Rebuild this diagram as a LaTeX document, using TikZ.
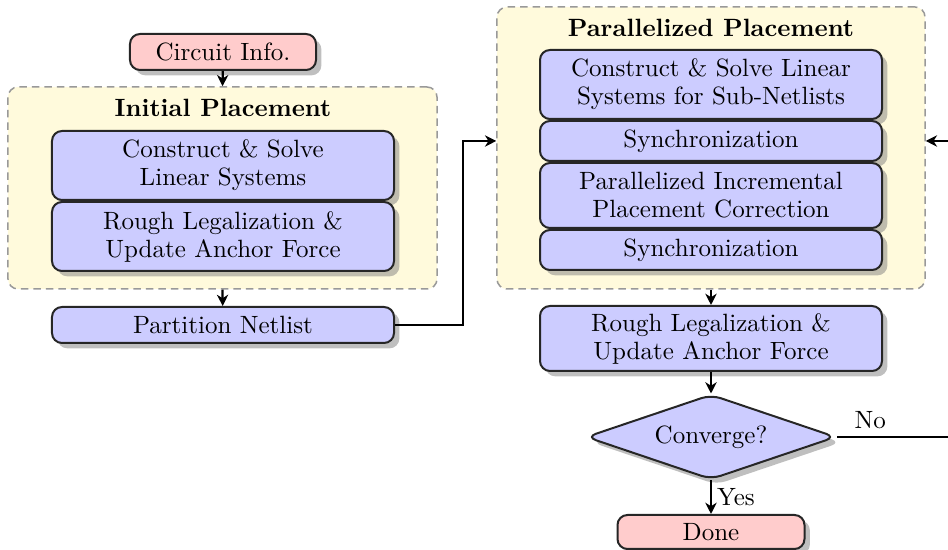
\documentclass[tikz,border=0pt]{standalone}
\usetikzlibrary{shapes.geometric,shadows,calc,arrows.meta}
\definecolor{boxblue}{RGB}{204,204,255}
\definecolor{boxpink}{RGB}{255,204,204}
\definecolor{grpfill}{RGB}{255,250,220}
\begin{document}
\begin{tikzpicture}[x=0.4pt,y=-0.4pt,
  font=\fontsize{10}{11.2}\selectfont,
  procbox/.style={draw=black!85, thick, fill=boxblue, rounded corners=4pt, drop shadow,
    minimum width=136.8pt, align=center, inner sep=0pt},
  termbox/.style={draw=black!85, thick, fill=boxpink, rounded corners=4pt, drop shadow,
    align=center, inner sep=0pt},
  grpbox/.style={draw=gray!80, semithick, dash pattern=on 3pt off 2pt, fill=grpfill,
    rounded corners=4pt, inner sep=0pt},
  decbox/.style={diamond, aspect=2.96, draw=black!85, thick, fill=boxblue, drop shadow, rounded corners=4pt,
    minimum width=100pt, minimum height=34pt, inner sep=0pt},
  arr/.style={-{Stealth[length=4.5pt, width=4.5pt, inset=1.4pt]}, line width=0.9pt}]
\useasboundingbox (0,0) rectangle (948,550);
\clip (0,0) rectangle (948,550);

% groups
\node[grpbox, minimum width=171.6pt, minimum height=80.8pt] (g1) at (222.5,188) {};
\node[font=\bfseries] (t1) at (223,108) {Initial Placement};
\node[grpbox, minimum width=171.2pt, minimum height=112.8pt] (g2) at (711,148) {};
\node[font=\bfseries] (t2) at (711,28) {Parallelized Placement};

% left column
\node[termbox, minimum width=74.4pt, minimum height=14.4pt] (ci) at (223,52) {Circuit Info.};
\node[procbox, minimum height=27.6pt] (cs1) at (223,165.5) {Construct \& Solve\\Linear Systems};
\node[procbox, minimum height=27.6pt] (rl1) at (223,236.5) {Rough Legalization \&\\Update Anchor Force};
\node[procbox, minimum height=14.4pt] (pn) at (223,325) {Partition Netlist};

% right column
\node[procbox, minimum height=27.6pt] (cs2) at (711,84.5) {Construct \& Solve Linear\\Systems for Sub-Netlists};
\node[procbox, minimum height=16pt] (s1) at (711,141) {Synchronization};
\node[procbox, minimum height=26pt] (pipc) at (711,195.5) {Parallelized Incremental\\Placement Correction};
\node[procbox, minimum height=16pt] (s2) at (711,250) {Synchronization};
\node[procbox, minimum height=26pt] (rl2) at (711,338.5) {Rough Legalization \&\\Update Anchor Force};
\node[decbox] (dec) at (711,437) {Converge?};
\node[termbox, minimum width=74.8pt, minimum height=13.6pt] (done) at (711,532) {Done};

\coordinate (j1) at (463,325);
\coordinate (j2) at (975,437);

% connectors
\draw[arr] (ci) -- (g1.north);
\draw[arr] (g1.south) -- (pn);
\draw[arr] (pn.east) -- (j1) |- (g2.west |- s1);
\draw[arr] (g2.south) -- (rl2);
\draw[arr] (rl2) -- (dec);
\draw[arr] (dec) -- node[right, inner sep=2pt] (yes) {Yes} (done);
\draw[arr] (dec.east) -- node[above, pos=0.24, inner sep=3pt] (no) {No} (j2) |- (g2.east |- s1);
\end{tikzpicture}
\end{document}
